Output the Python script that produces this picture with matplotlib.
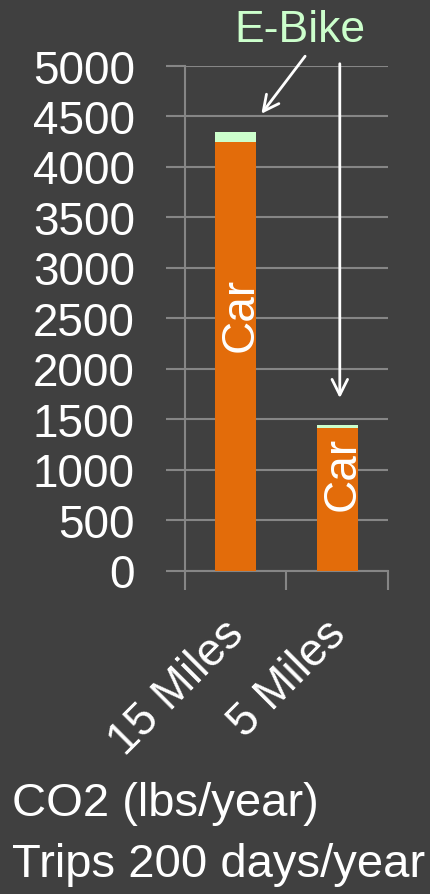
import numpy as np
import matplotlib.pyplot as plt
from matplotlib.transforms import ScaledTranslation

# data
categories = ['15 Miles', '5 Miles']
car = [4240, 1410]
ebike = [100, 33]
car_label_y = [2540, 965]   # where the "Car" text sits
y_ticks = np.arange(0, 5001, 500)

BG = '#404040'
ORANGE = '#E36C0A'
GREEN = '#CCFFCC'
GRID = '#868686'

plt.rcParams['font.family'] = ['Liberation Sans', 'DejaVu Sans']

fig = plt.figure(figsize=(4.31, 8.95), dpi=100, facecolor=BG)
ax = fig.add_axes([185 / 431, 1 - 571.5 / 895, 203 / 431, 505 / 895])
ax.set_facecolor(BG)

x = np.arange(len(categories))
ax.bar(x, car, width=0.4, color=ORANGE, zorder=3)
ax.bar(x, ebike, bottom=car, width=0.4, color=GREEN, zorder=3)

for xi, yi in zip(x, car_label_y):
    ax.text(xi + 0.05, yi, 'Car', rotation=90, color='white', fontsize=33,
            ha='center', va='center', zorder=4)

ax.set_xlim(-0.5, 1.5)
ax.set_ylim(0, 5000)
ax.set_yticks(y_ticks)
ax.yaxis.grid(True, color=GRID, linewidth=1.5, zorder=0)
ax.tick_params(axis='y', colors=GRID, labelcolor='white', labelsize=33,
               length=14, width=1.5, pad=22)

ax.set_xticks(x)
ax.set_xticklabels(categories, rotation=45, ha='right', rotation_mode='anchor',
                   color='white', fontsize=33)
ax.set_xticks([-0.5, 0.5, 1.5], minor=True)
ax.tick_params(axis='x', which='major', length=0, pad=29)
ax.tick_params(axis='x', which='minor', colors=GRID, length=14, width=1.5)
shift = ScaledTranslation(-0.14, 0, fig.dpi_scale_trans)
for lbl in ax.get_xticklabels():
    lbl.set_transform(lbl.get_transform() + shift)

for side in ['top', 'right']:
    ax.spines[side].set_visible(False)
for side in ['left', 'bottom']:
    ax.spines[side].set_color(GRID)
    ax.spines[side].set_linewidth(1.5)

# E-Bike callout with two arrows
ax.text(0.63, 5240, 'E-Bike', color=GREEN, fontsize=32, ha='center',
        va='baseline')
arrow = dict(arrowstyle='->', color='white', lw=2, mutation_scale=28)
ax.annotate('', xy=(0.236, 4500), xytext=(0.70, 5114), arrowprops=arrow,
            annotation_clip=False)
ax.annotate('', xy=(1.025, 1680), xytext=(1.025, 5045), arrowprops=arrow,
            annotation_clip=False)

fig.text(12 / 431, 1 - 816 / 895, 'CO2 (lbs/year)', color='white',
         fontsize=34, ha='left', va='baseline')
fig.text(12 / 431, 1 - 877 / 895, 'Trips 200 days/year', color='white',
         fontsize=34, ha='left', va='baseline')

fig.savefig('out.png', dpi=100, facecolor=BG)
